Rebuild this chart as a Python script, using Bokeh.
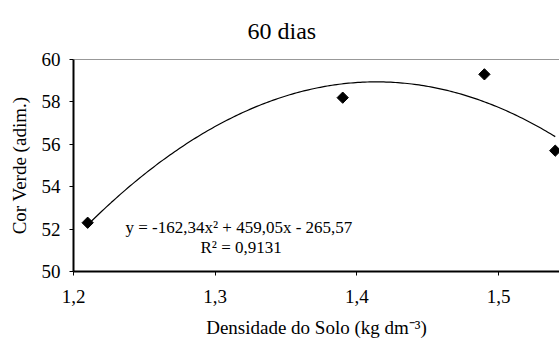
import numpy as np
from bokeh.plotting import figure
from bokeh.models import Range1d, FixedTicker, Span, Label, ColumnDataSource, Title
from bokeh.embed import file_html
from bokeh.resources import INLINE

# Observed values
densidade = [1.21, 1.39, 1.49, 1.54]
cor_verde = [52.3, 58.2, 59.3, 55.7]

# Quadratic fit coefficients (a, b, c) for y = a x^2 + b x + c
coef = [-162.34, 459.05, -265.57]
r2 = 0.9131

x_ticks = [1.2, 1.3, 1.4, 1.5]
x_tick_labels = ["1,2", "1,3", "1,4", "1,5"]
y_ticks = [50, 52, 54, 56, 58, 60]

FONT = "'Liberation Serif', 'Times New Roman', serif"

p = figure(width=559, height=343, output_backend="svg", toolbar_location=None,
           x_range=Range1d(1.2, 1.543), y_range=Range1d(50, 60),
           min_border_left=73, min_border_right=0, min_border_top=0,
           min_border_bottom=72, title=None)
p.outline_line_color = None
p.grid.visible = False
p.background_fill_color = "white"
p.border_fill_color = "white"

# fitted curve over the observed density interval
xs = np.linspace(min(densidade), max(densidade), 200)
ys = coef[0] * xs ** 2 + coef[1] * xs + coef[2]
p.line(xs, ys, line_color="black", line_width=1.2)

src = ColumnDataSource(dict(x=densidade, y=cor_verde))
p.scatter("x", "y", source=src, marker="square", angle=np.pi / 4, size=8,
          fill_color="black", line_color="black")

# top frame line
p.add_layout(Span(location=60, dimension="width", line_color="#333333", line_width=1))

# axes
p.xaxis.ticker = FixedTicker(ticks=x_ticks)
p.xaxis.major_label_overrides = {t: l for t, l in zip(x_ticks, x_tick_labels)}
p.yaxis.ticker = FixedTicker(ticks=y_ticks)
for ax in (p.xaxis[0], p.yaxis[0]):
    ax.axis_line_color = "black"
    ax.axis_line_width = 2
    ax.major_tick_line_color = "black"
    ax.major_tick_in = 0
    ax.major_tick_out = 4
    ax.minor_tick_line_color = None
    ax.major_label_text_font = FONT
    ax.major_label_text_font_size = "19px"
    ax.major_label_text_color = "black"
    ax.axis_label_text_font = FONT
    ax.axis_label_text_font_size = "19px"
    ax.axis_label_text_font_style = "normal"
    ax.axis_label_text_color = "black"

p.xaxis.axis_label = "Densidade do Solo (kg dm\u207b\u00b3)"
p.yaxis.axis_label = "Cor Verde (adim.)"
p.xaxis.major_label_standoff = 14
p.xaxis.axis_label_standoff = 11
p.yaxis.major_label_standoff = 9
p.yaxis.axis_label_standoff = 9

# equation and R² (screen offsets from the frame's lower-left corner)
eq = "y = %sx\u00b2 + %sx - %s" % (
    f"{coef[0]:.2f}".replace(".", ","),
    f"{coef[1]:.2f}".replace(".", ","),
    f"{-coef[2]:.2f}".replace(".", ","))
p.add_layout(Label(x=52, y=44, x_units="screen", y_units="screen",
                   text=eq, text_font=FONT, text_font_size="17px",
                   text_color="black", text_baseline="middle"))
p.add_layout(Label(x=127, y=24, x_units="screen", y_units="screen",
                   text="R\u00b2 = " + f"{r2:.4f}".replace(".", ","),
                   text_font=FONT, text_font_size="17px",
                   text_color="black", text_baseline="middle"))

# title
p.add_layout(Title(text="60 dias", text_font=FONT, text_font_size="24px",
                   text_font_style="normal", text_color="black",
                   align="left", offset=174, standoff=31), "above")

open("out.html", "w").write(file_html(p, INLINE))
